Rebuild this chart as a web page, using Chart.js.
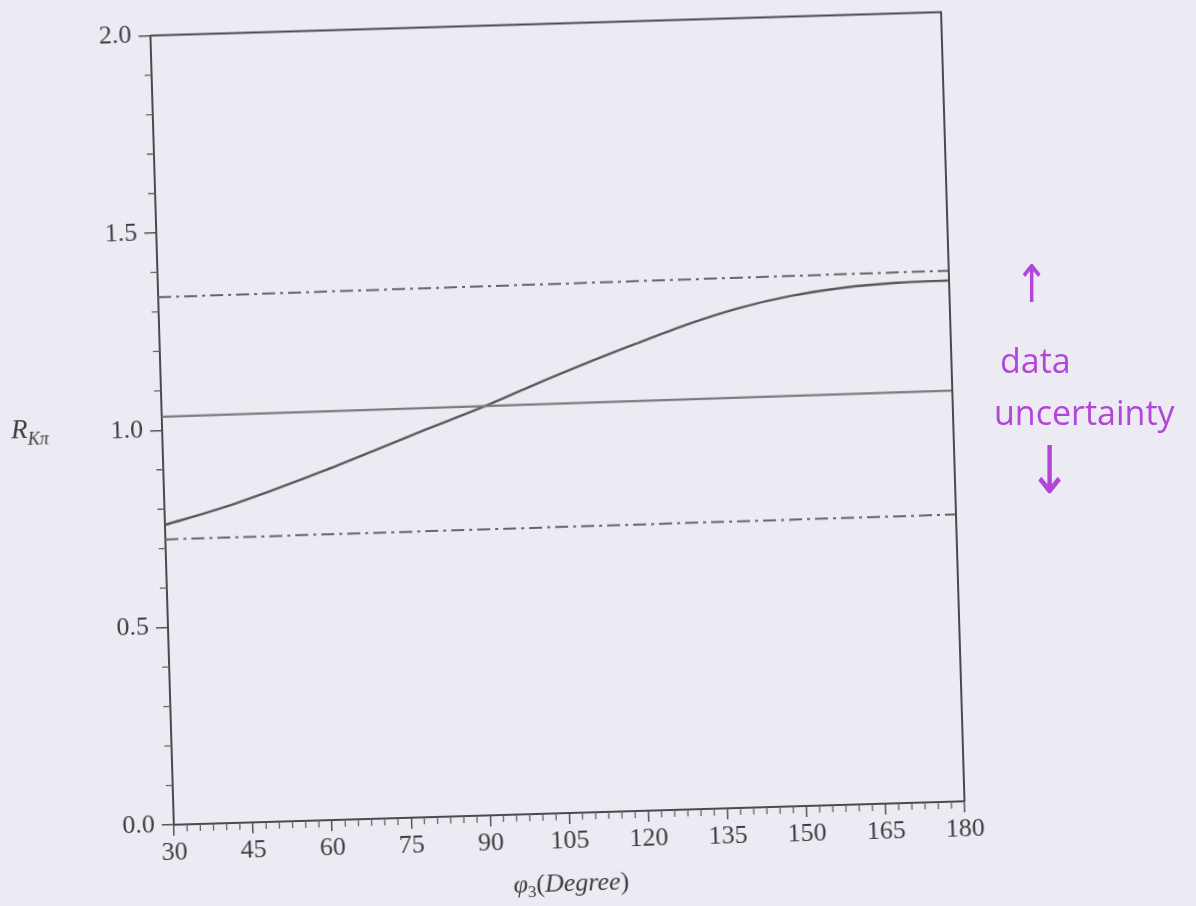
<!DOCTYPE html>
<html>
<head>
<meta charset="utf-8">
<script src="https://cdn.jsdelivr.net/npm/chart.js@4.4.1/dist/chart.umd.min.js"></script>
<style>
  html, body { margin:0; padding:0; width:1196px; height:906px; overflow:hidden; background:#ecebf3; }
  #wrap { position:absolute; left:0; top:0; width:1196px; height:906px; transform: rotate(-1.7deg); transform-origin: 598px 453px; }
  canvas { display:block; background:#ecebf3; }
  .note { position:absolute; color:#b246d8; font-family:"Open Sans", sans-serif; font-size:34px; line-height:1; white-space:nowrap; }
  .arrow { position:absolute; color:#b246d8; font-family:"DejaVu Sans", sans-serif; line-height:1; }
</style>
</head>
<body>
<div id="wrap"><canvas id="c" width="1196" height="906"></canvas></div>
<div class="arrow" style="left:1010px; top:258px; font-size:52px; transform:scaleX(0.8);">↑</div>
<div class="note" style="left:1000px; top:343px;">data</div>
<div class="note" style="left:994px; top:395px;">uncertainty</div>
<div class="arrow" style="left:1022px; top:438px; font-size:66px; transform:scaleX(0.8);">↓</div>
<script>
// ---- data ----
const phi = [30, 40, 50, 60, 70, 80, 90, 100, 110, 120, 130, 140, 150, 160, 170, 180];
const rKpiCurve = [0.760, 0.795, 0.837, 0.883, 0.932, 0.982, 1.030, 1.083, 1.134, 1.182, 1.228, 1.266, 1.293, 1.310, 1.318, 1.320];
const phiFlat = [30, 180];
const upperBound = [1.337, 1.345];
const central = [1.034, 1.041];
const lowerBound = [0.723, 0.727];
const xTickValues = [30, 45, 60, 75, 90, 105, 120, 135, 150, 165, 180];
const yTickValues = [0.0, 0.5, 1.0, 1.5, 2.0];

const pts = (xs, ys) => xs.map((x, i) => ({x: x, y: ys[i]}));
const INK = '#4a4a4a';
const TXT = '#3e3e3e';
const serif = '"Liberation Serif", "Times New Roman", serif';

const extras = {
  id: 'extras',
  afterDraw(chart) {
    const {ctx, chartArea: a, scales: {x, y}} = chart;
    ctx.save();
    // frame top & right
    ctx.strokeStyle = INK; ctx.lineWidth = 2;
    ctx.beginPath();
    ctx.moveTo(a.left, a.top); ctx.lineTo(a.right, a.top); ctx.lineTo(a.right, a.bottom);
    ctx.stroke();
    // minor ticks
    ctx.lineWidth = 1.3; ctx.strokeStyle = '#666';
    ctx.beginPath();
    for (let v = 30; v <= 180.001; v += 2.5) {
      if (Math.abs(v % 15) < 1e-6) continue;
      const px = x.getPixelForValue(v);
      ctx.moveTo(px, a.bottom); ctx.lineTo(px, a.bottom + 7);
    }
    for (let k = 0; k <= 20; k++) {
      if (k % 5 === 0) continue;
      const py = y.getPixelForValue(k / 10);
      ctx.moveTo(a.left - 7, py); ctx.lineTo(a.left, py);
    }
    ctx.stroke();
    // y axis title  R_{Kπ}
    ctx.fillStyle = TXT;
    ctx.textBaseline = 'alphabetic';
    ctx.textAlign = 'left';
    ctx.font = 'italic 27px ' + serif;
    ctx.fillText('R', 12, 421);
    const rw = ctx.measureText('R').width;
    ctx.font = 'italic 18px ' + serif;
    ctx.fillText('Kπ', 12 + rw, 428);
    // x axis title  φ3(Degree)
    const parts = [
      {t: 'φ', f: 'italic 26px ' + serif, dy: 0},
      {t: '3', f: '17px ' + serif, dy: 5},
      {t: '(', f: '26px ' + serif, dy: 0},
      {t: 'Degree', f: 'italic 26px ' + serif, dy: 0},
      {t: ')', f: '26px ' + serif, dy: 0}
    ];
    let total = 0;
    parts.forEach(p => { ctx.font = p.f; p.w = ctx.measureText(p.t).width; total += p.w; });
    let cx = (a.left + a.right) / 2 - total / 2;
    parts.forEach(p => { ctx.font = p.f; ctx.fillText(p.t, cx, 890 + p.dy); cx += p.w; });
    ctx.restore();
  }
};

new Chart(document.getElementById('c'), {
  type: 'line',
  data: {
    datasets: [
      { data: pts(phiFlat, upperBound), borderColor: '#666', borderWidth: 2, borderDash: [13, 5, 3, 5], pointRadius: 0 },
      { data: pts(phiFlat, central), borderColor: '#7c7c7c', borderWidth: 2.2, pointRadius: 0 },
      { data: pts(phiFlat, lowerBound), borderColor: '#666', borderWidth: 2, borderDash: [13, 5, 3, 5], pointRadius: 0 },
      { data: pts(phi, rKpiCurve), borderColor: '#5a5a5a', borderWidth: 2.4, pointRadius: 0, cubicInterpolationMode: 'monotone' }
    ]
  },
  options: {
    responsive: false,
    animation: false,
    devicePixelRatio: 1,
    layout: { autoPadding: false, padding: { left: 0, right: 242, top: 20, bottom: 0 } },
    plugins: { legend: { display: false }, tooltip: { enabled: false } },
    scales: {
      x: {
        type: 'linear', min: 30, max: 180,
        afterBuildTicks: s => { s.ticks = xTickValues.map(v => ({value: v})); },
        afterFit: s => { s.height = 94; },
        ticks: { callback: v => String(v), font: { family: serif, size: 26 }, color: TXT, padding: 2, maxRotation: 0, autoSkip: false },
        grid: { display: true, drawOnChartArea: false, drawTicks: true, tickLength: 11, color: '#555', lineWidth: 1.5 },
        border: { display: true, color: INK, width: 2 }
      },
      y: {
        type: 'linear', min: 0, max: 2,
        afterBuildTicks: s => { s.ticks = yTickValues.map(v => ({value: v})); },
        afterFit: s => { s.width = 163; },
        ticks: { callback: v => Number(v).toFixed(1), font: { family: serif, size: 26 }, color: TXT, padding: 7, autoSkip: false },
        grid: { display: true, drawOnChartArea: false, drawTicks: true, tickLength: 12, color: '#555', lineWidth: 1.5 },
        border: { display: true, color: INK, width: 2 }
      }
    }
  },
  plugins: [extras]
});
</script>
</body>
</html>
